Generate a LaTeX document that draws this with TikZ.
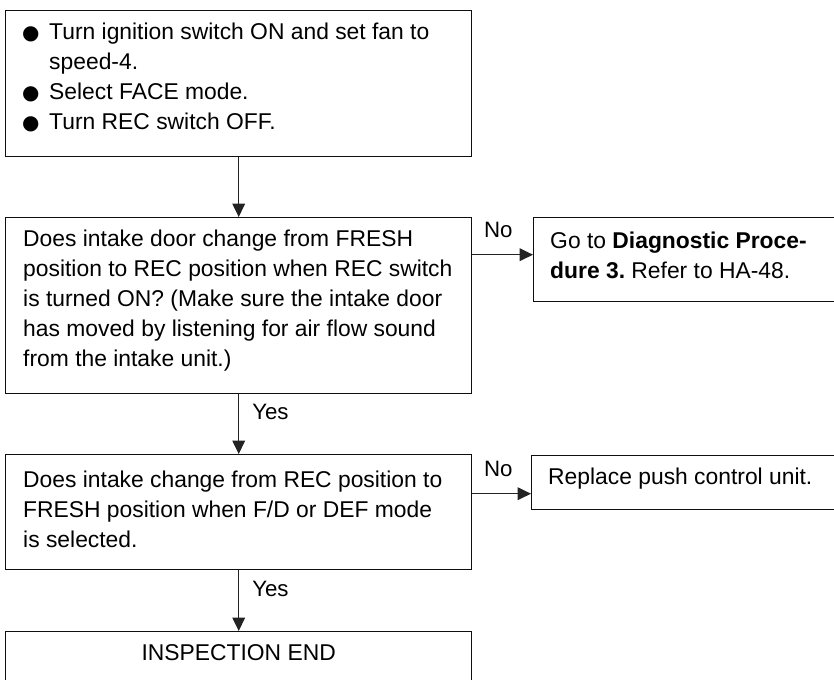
\documentclass[tikz,border=0pt]{standalone}
\usepackage{fontspec}
\setmainfont{Liberation Sans}
\newfontfamily\symfont{DejaVu Sans}
\usetikzlibrary{positioning,calc}
\usetikzlibrary{arrows.meta}
\definecolor{InkBlack}{RGB}{15,15,15}
\definecolor{LineGray}{RGB}{35,35,35}
\tikzset{
  box/.style={draw=InkBlack,line width=1.2pt,anchor=north west,minimum width=13.98cm,inner sep=0pt},
  txt/.style={align=left,inner sep=0pt,font=\fontsize{19.5}{25.6}\selectfont},
  flow/.style={draw=LineGray,line width=1pt,-{Triangle[length=0.4cm,width=0.38cm]}},
}
\tikzset{lab/.style={inner sep=0pt,font=\fontsize{19}{22}\selectfont}}
\newcommand{\blt}{\makebox[0.81cm][l]{{\symfont\fontsize{17}{17}\selectfont ●}}}
\frenchspacing

\begin{document}
\begin{tikzpicture}[x=0.03cm,y=-0.03cm]
\useasboundingbox (0,0) rectangle (834,680);
\node[box,minimum height=4.38cm] (start) at (5,10) {};
\node[box,minimum height=5.28cm] (q1) at (5,217) {};
\node[box,minimum width=11.01cm,minimum height=2.52cm] (diag) at (533,217) {};
\node[box,minimum height=3.45cm] (q2) at (5,454) {};
\node[box,minimum width=11.01cm,minimum height=1.62cm] (rep) at (531,455) {};
\node[box,minimum height=2.67cm] (fin) at (5,631) {};
\node[txt,right=0.51cm of start.west,yshift=0.18cm] (starttxt) {\blt Turn ignition switch ON and set fan to\\
  \hspace*{0.81cm}speed-4.\\
  \blt Select FACE mode.\\
  \blt Turn REC switch OFF.};
\node[txt,right=0.54cm of q1.west,yshift=0.15cm] (q1txt) {Does intake door change from FRESH\\
  position to REC position when REC switch\\
  is turned ON? (Make sure the intake door\\
  has moved by listening for air flow sound\\
  from the intake unit.)};
\node[txt,right=0.51cm of diag.west,yshift=0.12cm] (diagtxt) {Go to \textbf{Diagnostic Proce-}\\
  \textbf{dure 3.} Refer to HA-48.};
\node[txt,right=0.54cm of q2.west,yshift=0.08cm] (q2txt) {Does intake change from REC position to\\
  FRESH position when F/D or DEF mode\\
  is selected.};
\node[txt,right=0.51cm of rep.west,yshift=0.12cm] (reptxt) {Replace push control unit.};
\node[txt,below=0.4cm of fin.north] (fintxt) {INSPECTION END};
\coordinate (noa) at ($(diag.west)+(0,0.15cm)$);
\coordinate (nob) at ($(rep.west)+(0,-0.33cm)$);
\draw[flow] (start.south) -- (q1.north);
\draw[flow] (q1.east |- noa) -- node[lab,pos=0,anchor=south west,xshift=0.33cm,yshift=0.48cm] (no1) {No} (noa);
\draw[flow] (q1.south) -- node[lab,pos=0,anchor=north west,xshift=0.39cm,yshift=-0.27cm] (yes1) {Yes} (q2.north);
\draw[flow] (q2.east |- nob) -- node[lab,pos=0,anchor=south west,xshift=0.33cm,yshift=0.48cm] (no2) {No} (nob);
\draw[flow] (q2.south) -- node[lab,pos=0,anchor=north west,xshift=0.39cm,yshift=-0.3cm] (yes2) {Yes} (fin.north);
\end{tikzpicture}
\end{document}
